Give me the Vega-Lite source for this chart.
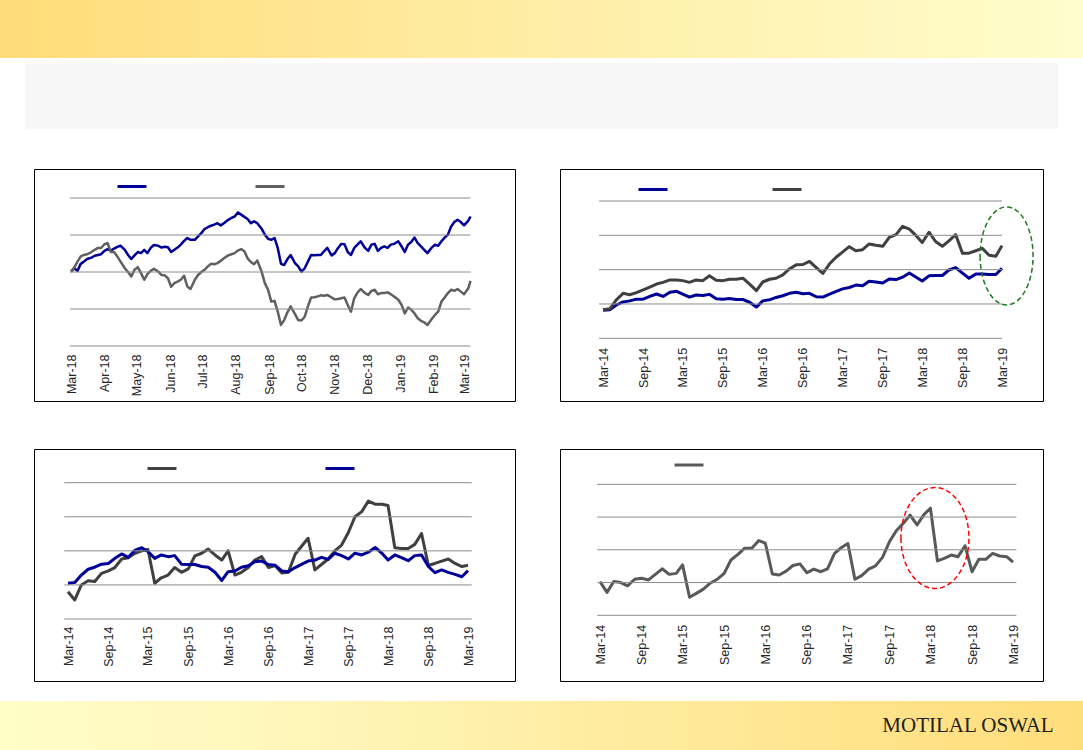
{
"$schema":"https://vega.github.io/schema/vega-lite/v6.json",
"padding":0,
"background":"#ffffff",
"config":{"view":{"stroke":null},"axis":{"labelFont":"Liberation Sans"},"legend":{"labelFont":"Liberation Sans"}},
"datasets":{
"tl":[
{"d":"2018-03-16","s1":20.1,"s2":20.1},{"d":"2018-03-19","s1":21.0,"s2":21.2},{"d":"2018-03-22","s1":20.3,"s2":22.8},{"d":"2018-03-25","s1":22.2,"s2":24.2},{"d":"2018-03-28","s1":22.8,"s2":24.6},{"d":"2018-03-31","s1":23.5,"s2":24.8},{"d":"2018-04-04","s1":23.9,"s2":25.4},{"d":"2018-04-07","s1":24.4,"s2":26.0},{"d":"2018-04-10","s1":24.6,"s2":26.5},{"d":"2018-04-13","s1":24.8,"s2":26.5},{"d":"2018-04-16","s1":25.7,"s2":27.5},{"d":"2018-04-19","s1":26.2,"s2":27.8},{"d":"2018-04-22","s1":25.8,"s2":25.4},{"d":"2018-04-25","s1":26.3,"s2":25.4},{"d":"2018-04-28","s1":26.8,"s2":24.2},{"d":"2018-05-01","s1":27.1,"s2":22.8},{"d":"2018-05-05","s1":26.0,"s2":21.0},{"d":"2018-05-08","s1":24.6,"s2":20.0},{"d":"2018-05-11","s1":23.5,"s2":18.8},{"d":"2018-05-14","s1":24.5,"s2":20.6},{"d":"2018-05-17","s1":25.4,"s2":21.3},{"d":"2018-05-20","s1":25.1,"s2":19.7},{"d":"2018-05-23","s1":26.0,"s2":17.9},{"d":"2018-05-26","s1":25.1,"s2":19.4},{"d":"2018-05-29","s1":26.5,"s2":20.3},{"d":"2018-06-01","s1":27.3,"s2":20.9},{"d":"2018-06-05","s1":27.1,"s2":20.1},{"d":"2018-06-08","s1":26.6,"s2":19.2},{"d":"2018-06-11","s1":26.8,"s2":19.1},{"d":"2018-06-14","s1":26.7,"s2":18.3},{"d":"2018-06-17","s1":25.4,"s2":16.0},{"d":"2018-06-20","s1":26.0,"s2":17.0},{"d":"2018-06-23","s1":26.6,"s2":17.4},{"d":"2018-06-26","s1":27.4,"s2":17.9},{"d":"2018-06-29","s1":28.4,"s2":19.0},{"d":"2018-07-02","s1":29.2,"s2":16.1},{"d":"2018-07-05","s1":28.7,"s2":15.4},{"d":"2018-07-09","s1":28.7,"s2":17.9},{"d":"2018-07-12","s1":29.6,"s2":19.2},{"d":"2018-07-15","s1":30.5,"s2":20.0},{"d":"2018-07-18","s1":31.6,"s2":20.6},{"d":"2018-07-21","s1":32.1,"s2":21.5},{"d":"2018-07-24","s1":32.5,"s2":22.2},{"d":"2018-07-27","s1":32.8,"s2":22.1},{"d":"2018-07-30","s1":33.2,"s2":22.4},{"d":"2018-08-02","s1":32.6,"s2":23.0},{"d":"2018-08-05","s1":33.2,"s2":23.7},{"d":"2018-08-09","s1":34.1,"s2":24.5},{"d":"2018-08-12","s1":34.6,"s2":24.8},{"d":"2018-08-15","s1":35.0,"s2":25.1},{"d":"2018-08-18","s1":36.1,"s2":25.8},{"d":"2018-08-21","s1":35.5,"s2":26.2},{"d":"2018-08-24","s1":34.9,"s2":25.6},{"d":"2018-08-27","s1":34.3,"s2":23.7},{"d":"2018-08-30","s1":33.2,"s2":22.7},{"d":"2018-09-02","s1":33.7,"s2":22.1},{"d":"2018-09-05","s1":33.2,"s2":23.1},{"d":"2018-09-09","s1":31.7,"s2":20.1},{"d":"2018-09-12","s1":30.1,"s2":17.0},{"d":"2018-09-15","s1":29.0,"s2":15.2},{"d":"2018-09-18","s1":28.7,"s2":12.0},{"d":"2018-09-21","s1":29.2,"s2":12.2},{"d":"2018-09-24","s1":26.5,"s2":9.3},{"d":"2018-09-27","s1":22.2,"s2":5.7},{"d":"2018-09-30","s1":21.9,"s2":7.0},{"d":"2018-10-03","s1":23.5,"s2":9.1},{"d":"2018-10-06","s1":24.6,"s2":10.7},{"d":"2018-10-10","s1":22.4,"s2":8.6},{"d":"2018-10-13","s1":21.5,"s2":7.0},{"d":"2018-10-16","s1":20.1,"s2":6.9},{"d":"2018-10-19","s1":21.0,"s2":7.9},{"d":"2018-10-22","s1":22.8,"s2":10.7},{"d":"2018-10-25","s1":24.6,"s2":13.1},{"d":"2018-10-28","s1":24.5,"s2":13.2},{"d":"2018-10-31","s1":24.6,"s2":13.4},{"d":"2018-11-03","s1":24.6,"s2":13.7},{"d":"2018-11-06","s1":25.6,"s2":13.6},{"d":"2018-11-09","s1":26.5,"s2":13.8},{"d":"2018-11-13","s1":24.5,"s2":13.1},{"d":"2018-11-16","s1":25.1,"s2":12.6},{"d":"2018-11-19","s1":26.5,"s2":12.7},{"d":"2018-11-22","s1":27.6,"s2":12.9},{"d":"2018-11-25","s1":27.5,"s2":13.1},{"d":"2018-11-28","s1":25.4,"s2":11.1},{"d":"2018-12-01","s1":24.6,"s2":9.3},{"d":"2018-12-04","s1":26.5,"s2":12.9},{"d":"2018-12-07","s1":27.4,"s2":14.4},{"d":"2018-12-10","s1":28.3,"s2":15.4},{"d":"2018-12-14","s1":26.5,"s2":14.3},{"d":"2018-12-17","s1":25.7,"s2":13.8},{"d":"2018-12-20","s1":27.4,"s2":14.9},{"d":"2018-12-23","s1":27.6,"s2":15.2},{"d":"2018-12-26","s1":25.7,"s2":14.0},{"d":"2018-12-29","s1":26.5,"s2":14.3},{"d":"2019-01-01","s1":26.9,"s2":14.3},{"d":"2019-01-04","s1":26.5,"s2":14.5},{"d":"2019-01-07","s1":27.4,"s2":14.0},{"d":"2019-01-10","s1":27.6,"s2":13.4},{"d":"2019-01-14","s1":28.3,"s2":12.5},{"d":"2019-01-17","s1":26.9,"s2":11.1},{"d":"2019-01-20","s1":25.4,"s2":8.8},{"d":"2019-01-23","s1":27.4,"s2":10.4},{"d":"2019-01-26","s1":28.1,"s2":9.8},{"d":"2019-01-29","s1":29.3,"s2":8.8},{"d":"2019-02-01","s1":27.8,"s2":7.5},{"d":"2019-02-04","s1":26.9,"s2":6.8},{"d":"2019-02-07","s1":26.0,"s2":6.4},{"d":"2019-02-10","s1":25.1,"s2":5.7},{"d":"2019-02-14","s1":26.6,"s2":7.3},{"d":"2019-02-17","s1":27.4,"s2":8.4},{"d":"2019-02-20","s1":27.1,"s2":9.3},{"d":"2019-02-23","s1":28.3,"s2":12.0},{"d":"2019-02-26","s1":29.3,"s2":13.1},{"d":"2019-03-01","s1":30.1,"s2":14.3},{"d":"2019-03-04","s1":32.3,"s2":15.2},{"d":"2019-03-07","s1":33.5,"s2":14.9},{"d":"2019-03-10","s1":34.1,"s2":15.4},{"d":"2019-03-13","s1":33.5,"s2":14.7},{"d":"2019-03-16","s1":32.6,"s2":14.0},{"d":"2019-03-20","s1":33.9,"s2":15.6},{"d":"2019-03-22","s1":35.0,"s2":17.6}
],
"m":[
{"d":"2014-03-01","trb":8.2,"trg":8.3,"blg":8.0,"blb":10.5,"brg":10.3},
{"d":"2014-04-01","trb":8.3,"trg":8.6,"blg":5.6,"blb":10.7,"brg":7.0},
{"d":"2014-05-01","trb":9.7,"trg":11.2,"blg":10.0,"blb":12.9,"brg":10.3},
{"d":"2014-06-01","trb":10.6,"trg":13.1,"blg":11.2,"blb":14.6,"brg":10.0},
{"d":"2014-07-01","trb":10.9,"trg":12.7,"blg":11.0,"blb":15.2,"brg":9.0},
{"d":"2014-08-01","trb":11.4,"trg":13.3,"blg":13.4,"blb":16.1,"brg":11.0},
{"d":"2014-09-01","trb":11.4,"trg":14.1,"blg":14.1,"blb":16.3,"brg":11.3},
{"d":"2014-10-01","trb":12.2,"trg":14.9,"blg":15.1,"blb":17.8,"brg":10.8},
{"d":"2014-11-01","trb":12.9,"trg":15.8,"blg":17.6,"blb":19.1,"brg":12.5},
{"d":"2014-12-01","trb":12.2,"trg":16.3,"blg":18.0,"blb":18.1,"brg":14.2},
{"d":"2015-01-01","trb":13.4,"trg":17.0,"blg":19.3,"blb":20.2,"brg":12.5},
{"d":"2015-02-01","trb":13.7,"trg":17.0,"blg":20.0,"blb":20.9,"brg":12.8},
{"d":"2015-03-01","trb":12.9,"trg":16.8,"blg":20.4,"blb":19.8,"brg":15.4},
{"d":"2015-04-01","trb":12.0,"trg":16.3,"blg":10.5,"blb":17.8,"brg":5.5},
{"d":"2015-05-01","trb":12.6,"trg":17.0,"blg":12.1,"blb":18.8,"brg":6.7},
{"d":"2015-06-01","trb":12.5,"trg":16.8,"blg":12.9,"blb":18.3,"brg":8.0},
{"d":"2015-07-01","trb":12.8,"trg":18.2,"blg":15.1,"blb":18.6,"brg":9.8},
{"d":"2015-08-01","trb":11.5,"trg":16.9,"blg":13.7,"blb":16.1,"brg":11.0},
{"d":"2015-09-01","trb":11.4,"trg":16.8,"blg":14.7,"blb":16.0,"brg":12.8},
{"d":"2015-10-01","trb":11.6,"trg":17.2,"blg":18.5,"blb":16.0,"brg":16.9},
{"d":"2015-11-01","trb":11.3,"trg":17.2,"blg":19.3,"blb":15.4,"brg":18.6},
{"d":"2015-12-01","trb":11.3,"trg":17.5,"blg":20.5,"blb":15.2,"brg":20.5},
{"d":"2016-01-01","trb":10.5,"trg":15.8,"blg":18.8,"blb":13.7,"brg":20.5},
{"d":"2016-02-01","trb":9.1,"trg":13.9,"blg":17.3,"blb":11.3,"brg":22.8},
{"d":"2016-03-01","trb":10.9,"trg":16.4,"blg":20.0,"blb":13.9,"brg":22.0},
{"d":"2016-04-01","trb":11.2,"trg":17.2,"blg":12.9,"blb":14.1,"brg":12.6},
{"d":"2016-05-01","trb":11.9,"trg":17.5,"blg":13.7,"blb":15.2,"brg":12.3},
{"d":"2016-06-01","trb":12.4,"trg":18.5,"blg":15.1,"blb":15.6,"brg":13.5},
{"d":"2016-07-01","trb":13.1,"trg":20.2,"blg":17.3,"blb":16.8,"brg":15.2},
{"d":"2016-08-01","trb":13.4,"trg":21.4,"blg":18.3,"blb":17.0,"brg":15.7},
{"d":"2016-09-01","trb":13.0,"trg":21.5,"blg":15.1,"blb":16.0,"brg":13.0},
{"d":"2016-10-01","trb":13.1,"trg":22.4,"blg":15.7,"blb":15.8,"brg":14.1},
{"d":"2016-11-01","trb":12.1,"trg":20.6,"blg":13.5,"blb":14.1,"brg":13.3},
{"d":"2016-12-01","trb":12.0,"trg":18.9,"blg":13.7,"blb":13.9,"brg":14.2},
{"d":"2017-01-01","trb":12.9,"trg":21.7,"blg":19.0,"blb":15.1,"brg":18.9},
{"d":"2017-02-01","trb":13.7,"trg":23.7,"blg":21.5,"blb":16.1,"brg":20.7},
{"d":"2017-03-01","trb":14.4,"trg":25.1,"blg":23.7,"blb":17.0,"brg":21.9},
{"d":"2017-04-01","trb":14.8,"trg":26.7,"blg":14.4,"blb":17.3,"brg":11.0},
{"d":"2017-05-01","trb":15.5,"trg":25.5,"blg":16.0,"blb":18.1,"brg":12.1},
{"d":"2017-06-01","trb":15.3,"trg":25.8,"blg":17.6,"blb":17.5,"brg":14.1},
{"d":"2017-07-01","trb":16.6,"trg":27.5,"blg":20.0,"blb":19.3,"brg":15.1},
{"d":"2017-08-01","trb":16.4,"trg":27.1,"blg":21.7,"blb":18.6,"brg":17.7},
{"d":"2017-09-01","trb":16.1,"trg":26.8,"blg":25.4,"blb":17.6,"brg":22.5},
{"d":"2017-10-01","trb":17.3,"trg":29.4,"blg":30.0,"blb":19.3,"brg":25.8},
{"d":"2017-11-01","trb":17.1,"trg":30.2,"blg":31.5,"blb":18.8,"brg":28.1},
{"d":"2017-12-01","trb":17.8,"trg":32.6,"blg":34.6,"blb":19.6,"brg":30.6},
{"d":"2018-01-01","trb":19.0,"trg":31.8,"blg":33.7,"blb":21.0,"brg":27.6},
{"d":"2018-02-01","trb":17.8,"trg":29.9,"blg":33.7,"blb":19.3,"brg":30.8},
{"d":"2018-03-01","trb":16.7,"trg":27.9,"blg":33.3,"blb":17.3,"brg":32.7},
{"d":"2018-04-01","trb":18.2,"trg":30.9,"blg":20.9,"blb":18.8,"brg":16.6},
{"d":"2018-05-01","trb":18.3,"trg":28.2,"blg":20.7,"blb":18.0,"brg":17.4},
{"d":"2018-06-01","trb":18.3,"trg":26.8,"blg":20.7,"blb":17.1,"brg":18.4},
{"d":"2018-07-01","trb":19.9,"trg":28.4,"blg":21.9,"blb":18.6,"brg":17.9},
{"d":"2018-08-01","trb":20.6,"trg":30.2,"blg":25.1,"blb":18.8,"brg":21.2},
{"d":"2018-09-01","trb":19.0,"trg":24.8,"blg":15.7,"blb":15.4,"brg":13.3},
{"d":"2018-10-01","trb":17.5,"trg":24.8,"blg":16.3,"blb":13.6,"brg":17.1},
{"d":"2018-11-01","trb":18.7,"trg":25.5,"blg":17.0,"blb":14.4,"brg":17.1},
{"d":"2018-12-01","trb":18.7,"trg":26.2,"blg":17.6,"blb":13.7,"brg":18.9},
{"d":"2019-01-01","trb":18.6,"trg":24.2,"blg":16.3,"blb":13.1,"brg":18.1},
{"d":"2019-02-01","trb":18.6,"trg":23.9,"blg":15.4,"blb":12.4,"brg":17.9},
{"d":"2019-03-01","trb":20.4,"trg":27.0,"blg":15.8,"blb":14.2,"brg":16.2}
],
"grid":[{"g":0},{"g":10},{"g":20},{"g":30},{"g":40}]
},
"spacing":0,
"resolve":{"scale":{"color":"independent"}},
"vconcat":[
{"width":1083,"height":58,"data":{"values":[{}]},"mark":{"type":"rect","fill":{"gradient":"linear","x1":0,"y1":0,"x2":1,"y2":0,"stops":[{"offset":0,"color":"#FFDC78"},{"offset":0.5,"color":"#FFEDA6"},{"offset":1,"color":"#FFFDCD"}]}},"encoding":{}},
{"width":1,"height":5,"data":{"values":[{}]},"mark":{"type":"rect","opacity":0},"encoding":{}},
{"spacing":0,"hconcat":[
 {"width":25,"height":66,"data":{"values":[{}]},"mark":{"type":"rect","opacity":0},"encoding":{}},
 {"width":1033,"height":66,"data":{"values":[{}]},"mark":{"type":"rect","fill":"#F7F7F7","cornerRadius":2},"encoding":{}}
]},
{"width":1,"height":39,"data":{"values":[{}]},"mark":{"type":"rect","opacity":0},"encoding":{}},
{"spacing":0,"resolve":{"scale":{"color":"independent"}},"hconcat":[
 {"width":33,"height":232,"data":{"values":[{}]},"mark":{"type":"rect","opacity":0},"encoding":{}},
 {"width":481,"height":232,"view":{"stroke":"#000000","strokeWidth":1},
  "layer":[
   {"data":{"name":"tl"},"transform":[{"fold":["s1","s2"],"as":["s","v"]}],
    "mark":{"type":"line","strokeWidth":2.5,"strokeJoin":"round"},
    "encoding":{
     "x":{"field":"d","type":"temporal","scale":{"type":"utc","domain":[{"year":2018,"month":3,"date":16,"utc":true},{"year":2019,"month":3,"date":22,"utc":true}],"range":[37,436.5],"nice":false},
      "axis":{"title":null,"values":[{"year":2018,"month":3,"date":16,"utc":true},{"year":2018,"month":4,"date":16,"utc":true},{"year":2018,"month":5,"date":16,"utc":true},{"year":2018,"month":6,"date":16,"utc":true},{"year":2018,"month":7,"date":16,"utc":true},{"year":2018,"month":8,"date":16,"utc":true},{"year":2018,"month":9,"date":16,"utc":true},{"year":2018,"month":10,"date":16,"utc":true},{"year":2018,"month":11,"date":16,"utc":true},{"year":2018,"month":12,"date":16,"utc":true},{"year":2019,"month":1,"date":16,"utc":true},{"year":2019,"month":2,"date":16,"utc":true},{"year":2019,"month":3,"date":16,"utc":true}],
       "labelExpr":"utcFormat(datum.value, '%b-%y')","labelAngle":-90,"labelFontSize":12.5,"labelColor":"#262626","grid":false,"domain":false,"ticks":false,"labelPadding":8,"offset":-55,"labelOverlap":false,"labelFlush":false,"labelBound":false}},
     "y":{"field":"v","type":"quantitative","scale":{"domain":[0,40],"range":[177,29],"nice":false,"zero":false},"axis":null},
     "color":{"field":"s","type":"nominal","scale":{"domain":["s1","s2"],"range":["#000099","#606060"]},
      "legend":{"title":null,"orient":"none","legendX":82,"legendY":1.5,"direction":"horizontal","labelExpr":"''","labelOffset":0,"symbolType":"stroke","symbolSize":841,"symbolStrokeWidth":3,"columnPadding":96,"padding":0}}}},
   {"data":{"name":"grid"},"mark":{"type":"rule","color":"#8c8c8c","strokeWidth":1},
    "encoding":{
     "y":{"field":"g","type":"quantitative","scale":{"domain":[0,40],"range":[177,29],"nice":false,"zero":false},"axis":null},
     "x":{"datum":{"year":2018,"month":3,"date":15,"utc":true},"type":"temporal"},
     "x2":{"datum":{"year":2019,"month":3,"date":22,"utc":true}}}}
  ]},
 {"width":43,"height":232,"data":{"values":[{}]},"mark":{"type":"rect","opacity":0},"encoding":{}},
 {"width":483,"height":232,"view":{"stroke":"#000000","strokeWidth":1},
  "layer":[
   {"data":{"name":"m"},"transform":[{"fold":["trb","trg"],"as":["s","v"]}],
    "mark":{"type":"line","strokeWidth":3,"strokeJoin":"round"},
    "encoding":{
     "x":{"field":"d","type":"temporal","scale":{"type":"utc","domain":[{"year":2014,"month":3,"date":1,"utc":true},{"year":2019,"month":3,"date":1,"utc":true}],"range":[43,442],"nice":false},
      "axis":{"title":null,"values":[{"year":2014,"month":3,"date":1,"utc":true},{"year":2014,"month":9,"date":1,"utc":true},{"year":2015,"month":3,"date":1,"utc":true},{"year":2015,"month":9,"date":1,"utc":true},{"year":2016,"month":3,"date":1,"utc":true},{"year":2016,"month":9,"date":1,"utc":true},{"year":2017,"month":3,"date":1,"utc":true},{"year":2017,"month":9,"date":1,"utc":true},{"year":2018,"month":3,"date":1,"utc":true},{"year":2018,"month":9,"date":1,"utc":true},{"year":2019,"month":3,"date":1,"utc":true}],
       "labelExpr":"utcFormat(datum.value, '%b-%y')","labelAngle":-90,"labelFontSize":12.5,"labelColor":"#262626","grid":false,"domain":false,"ticks":false,"labelPadding":9,"offset":-62.7,"labelOverlap":false,"labelFlush":false,"labelBound":false}},
     "y":{"field":"v","type":"quantitative","scale":{"domain":[0,40],"range":[169.3,32],"nice":false,"zero":false},"axis":null},
     "color":{"field":"s","type":"nominal","scale":{"domain":["trb","trg"],"range":["#000099","#404040"]},
      "legend":{"title":null,"orient":"none","legendX":77,"legendY":4.5,"direction":"horizontal","labelExpr":"''","labelOffset":0,"symbolType":"stroke","symbolSize":841,"symbolStrokeWidth":3,"columnPadding":92,"padding":0}}}},
   {"data":{"name":"grid"},"mark":{"type":"rule","color":"#8c8c8c","strokeWidth":1},
    "encoding":{
     "y":{"field":"g","type":"quantitative","scale":{"domain":[0,40],"range":[169.3,32],"nice":false,"zero":false},"axis":null},
     "x":{"datum":{"year":2014,"month":2,"date":11,"utc":true},"type":"temporal"},
     "x2":{"datum":{"year":2019,"month":3,"date":1,"utc":true}}}},
   {"data":{"values":[{"d":"2019-03-22","v":24}]},
    "mark":{"type":"point","shape":"M -0.54 0 A 0.54 1 0 1 0 0.54 0 A 0.54 1 0 1 0 -0.54 0 Z","size":9604,"filled":false,"opacity":1,"color":"#1d7a1d","strokeWidth":1.5,"strokeDash":[5,3]},
    "encoding":{
     "x":{"field":"d","type":"temporal"},
     "y":{"field":"v","type":"quantitative","axis":null}}}
  ]}
]},
{"width":1,"height":46,"data":{"values":[{}]},"mark":{"type":"rect","opacity":0},"encoding":{}},
{"spacing":0,"resolve":{"scale":{"color":"independent"}},"hconcat":[
 {"width":33,"height":232,"data":{"values":[{}]},"mark":{"type":"rect","opacity":0},"encoding":{}},
 {"width":481,"height":232,"view":{"stroke":"#000000","strokeWidth":1},
  "layer":[
   {"data":{"name":"m"},"transform":[{"fold":["blg","blb"],"as":["s","v"]}],
    "mark":{"type":"line","strokeWidth":3,"strokeJoin":"round"},
    "encoding":{
     "x":{"field":"d","type":"temporal","scale":{"type":"utc","domain":[{"year":2014,"month":3,"date":1,"utc":true},{"year":2019,"month":3,"date":1,"utc":true}],"range":[34,434],"nice":false},
      "axis":{"title":null,"values":[{"year":2014,"month":3,"date":1,"utc":true},{"year":2014,"month":9,"date":1,"utc":true},{"year":2015,"month":3,"date":1,"utc":true},{"year":2015,"month":9,"date":1,"utc":true},{"year":2016,"month":3,"date":1,"utc":true},{"year":2016,"month":9,"date":1,"utc":true},{"year":2017,"month":3,"date":1,"utc":true},{"year":2017,"month":9,"date":1,"utc":true},{"year":2018,"month":3,"date":1,"utc":true},{"year":2018,"month":9,"date":1,"utc":true},{"year":2019,"month":3,"date":1,"utc":true}],
       "labelExpr":"utcFormat(datum.value, '%b-%y')","labelAngle":-90,"labelFontSize":12.5,"labelColor":"#262626","grid":false,"domain":false,"ticks":false,"labelPadding":7,"offset":-62,"labelOverlap":false,"labelFlush":false,"labelBound":false}},
     "y":{"field":"v","type":"quantitative","scale":{"domain":[0,40],"range":[170,33.7],"nice":false,"zero":false},"axis":null},
     "color":{"field":"s","type":"nominal","scale":{"domain":["blg","blb"],"range":["#404040","#000099"]},
      "legend":{"title":null,"orient":"none","legendX":112,"legendY":3.5,"direction":"horizontal","labelExpr":"''","labelOffset":0,"symbolType":"stroke","symbolSize":841,"symbolStrokeWidth":3,"columnPadding":136,"padding":0}}}},
   {"data":{"name":"grid"},"mark":{"type":"rule","color":"#8c8c8c","strokeWidth":1},
    "encoding":{
     "y":{"field":"g","type":"quantitative","scale":{"domain":[0,40],"range":[170,33.7],"nice":false,"zero":false},"axis":null},
     "x":{"datum":{"year":2014,"month":2,"date":12,"utc":true},"type":"temporal"},
     "x2":{"datum":{"year":2019,"month":3,"date":18,"utc":true}}}}
  ]},
 {"width":43,"height":232,"data":{"values":[{}]},"mark":{"type":"rect","opacity":0},"encoding":{}},
 {"width":483,"height":232,"view":{"stroke":"#000000","strokeWidth":1},
  "layer":[
   {"data":{"name":"m"},"transform":[{"fold":["brg"],"as":["s","v"]}],
    "mark":{"type":"line","strokeWidth":3,"strokeJoin":"round"},
    "encoding":{
     "x":{"field":"d","type":"temporal","scale":{"type":"utc","domain":[{"year":2014,"month":3,"date":1,"utc":true},{"year":2019,"month":3,"date":1,"utc":true}],"range":[40,453],"nice":false},
      "axis":{"title":null,"values":[{"year":2014,"month":3,"date":1,"utc":true},{"year":2014,"month":9,"date":1,"utc":true},{"year":2015,"month":3,"date":1,"utc":true},{"year":2015,"month":9,"date":1,"utc":true},{"year":2016,"month":3,"date":1,"utc":true},{"year":2016,"month":9,"date":1,"utc":true},{"year":2017,"month":3,"date":1,"utc":true},{"year":2017,"month":9,"date":1,"utc":true},{"year":2018,"month":3,"date":1,"utc":true},{"year":2018,"month":9,"date":1,"utc":true},{"year":2019,"month":3,"date":1,"utc":true}],
       "labelExpr":"utcFormat(datum.value, '%b-%y')","labelAngle":-90,"labelFontSize":12.5,"labelColor":"#262626","grid":false,"domain":false,"ticks":false,"labelPadding":9,"offset":-65.7,"labelOverlap":false,"labelFlush":false,"labelBound":false}},
     "y":{"field":"v","type":"quantitative","scale":{"domain":[0,40],"range":[166.3,35.3],"nice":false,"zero":false},"axis":null},
     "color":{"field":"s","type":"nominal","scale":{"domain":["brg"],"range":["#595959"]},
      "legend":{"title":null,"orient":"none","legendX":113,"legendY":0,"direction":"horizontal","labelExpr":"''","labelOffset":0,"symbolType":"stroke","symbolSize":841,"symbolStrokeWidth":3,"padding":0}}}},
   {"data":{"name":"grid"},"mark":{"type":"rule","color":"#8c8c8c","strokeWidth":1},
    "encoding":{
     "y":{"field":"g","type":"quantitative","scale":{"domain":[0,40],"range":[166.3,35.3],"nice":false,"zero":false},"axis":null},
     "x":{"datum":{"year":2014,"month":2,"date":17,"utc":true},"type":"temporal"},
     "x2":{"datum":{"year":2019,"month":3,"date":16,"utc":true}}}},
   {"data":{"values":[{"d":"2018-03-21","v":23.6}]},
    "mark":{"type":"point","shape":"M -0.673 0 A 0.673 1 0 1 0 0.673 0 A 0.673 1 0 1 0 -0.673 0 Z","size":10201,"filled":false,"opacity":1,"color":"#ff0000","strokeWidth":1.5,"strokeDash":[5,3]},
    "encoding":{
     "x":{"field":"d","type":"temporal"},
     "y":{"field":"v","type":"quantitative","axis":null}}}
  ]}
]},
{"width":1,"height":19,"data":{"values":[{}]},"mark":{"type":"rect","opacity":0},"encoding":{}},
{"spacing":0,"hconcat":[
 {"width":853,"height":50,"data":{"values":[{}]},"mark":{"type":"rect","fill":{"gradient":"linear","x1":0,"y1":0,"x2":1,"y2":0,"stops":[{"offset":0,"color":"#FFFDC8"},{"offset":0.35,"color":"#FFF6BA"},{"offset":1,"color":"#FFE48C"}]}},"encoding":{}},
 {"width":230,"height":50,"layer":[
  {"data":{"values":[{}]},"mark":{"type":"rect","fill":{"gradient":"linear","x1":0,"y1":0,"x2":1,"y2":0,"stops":[{"offset":0,"color":"#FFE48C"},{"offset":1,"color":"#FFDD7B"}]}},"encoding":{}},
  {"data":{"values":[{"t":"MOTILAL OSWAL"}]},"mark":{"type":"text","font":"Liberation Serif","fontSize":21,"color":"#231F20","align":"center","baseline":"middle"},"encoding":{"text":{"field":"t"}}}
 ]}
]}
]
}
